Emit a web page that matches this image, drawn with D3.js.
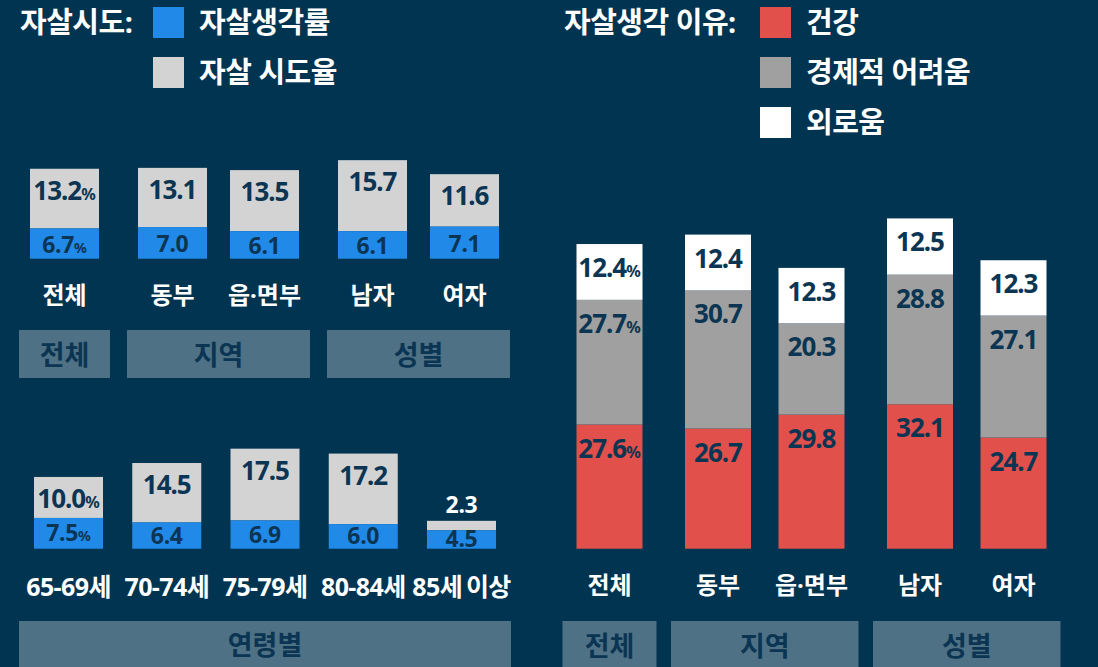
<!DOCTYPE html>
<meta charset="utf-8">
<script src="https://d3js.org/d3.v7.min.js"></script>
<style>
  body { margin: 0; background: #003450; }
  text { font-family: "Noto Sans", "Noto Sans CJK KR", sans-serif; font-weight: 700; }
</style>
<div id="chart"></div>
<script>
  // data
  const regionCats = ["전체", "동부", "읍·면부", "남자", "여자"]
  const regionGroup = [0, 1, 1, 2, 2]
  const groupNames = ["전체", "지역", "성별"]
  const ideation = [6.7, 7.0, 6.1, 6.1, 7.1]      // 자살생각률
  const attempt = [13.2, 13.1, 13.5, 15.7, 11.6]  // 자살 시도율

  const ageCats = ["65-69세", "70-74세", "75-79세", "80-84세", "85세 이상"]
  const ageIdeation = [7.5, 6.4, 6.9, 6.0, 4.5]
  const ageAttempt = [10.0, 14.5, 17.5, 17.2, 2.3]

  const health = [27.6, 26.7, 29.8, 32.1, 24.7]     // 건강
  const economic = [27.7, 30.7, 20.3, 28.8, 27.1]   // 경제적 어려움
  const lonely = [12.4, 12.4, 12.3, 12.5, 12.3]     // 외로움

  const width = 1098, height = 667
  const C = { bg: "#003450", blue: "#218ae9", lgray: "#d3d3d3", red: "#e1504a",
              dgray: "#9fa09f", white: "#ffffff", dark: "#0b3552", box: "#4e7186" }

  const svg = d3.select("#chart").append("svg")
    .attr("width", width).attr("height", height)
  svg.append("rect").attr("width", width).attr("height", height).attr("fill", C.bg)

  // value label, small % on the first bar
  function valueLabel(g, x, y, v, size, color, pct) {
    const t = g.append("text").attr("x", x).attr("y", y)
      .attr("text-anchor", "middle").attr("fill", color)
      .attr("font-size", size).attr("letter-spacing", size > 24 ? -1 : -0.3)
    t.append("tspan").text(v.toFixed(1))
    if (pct) t.append("tspan").attr("font-size", size * 0.62).attr("letter-spacing", 0).text("%")
  }

  function legend(x, title, items) {
    const g = svg.append("g")
    g.append("text").attr("x", title.x).attr("y", 33).attr("fill", "#fff")
      .attr("font-size", 29).attr("letter-spacing", -0.5).text(title.t)
    items.forEach((it, i) => {
      g.append("rect").attr("x", x).attr("y", 7 + i * 50).attr("width", 31).attr("height", 31).attr("fill", it.c)
      g.append("text").attr("x", x + 46).attr("y", 33 + i * 50).attr("fill", "#fff")
        .attr("font-size", 29).attr("letter-spacing", -0.5).text(it.t)
    })
  }
  legend(153, { t: "자살시도:", x: 20 }, [{ c: C.blue, t: "자살생각률" }, { c: C.lgray, t: "자살 시도율" }])
  legend(760, { t: "자살생각 이유:", x: 564 }, [{ c: C.red, t: "건강" }, { c: C.dgray, t: "경제적 어려움" }, { c: C.white, t: "외로움" }])

  function groupBoxes(g, xs, bw, y, h, pad) {
    groupNames.forEach((name, gi) => {
      const idx = regionGroup.map((d, i) => d === gi ? i : -1).filter(i => i >= 0)
      const x0 = xs(idx[0]) - bw / 2 - pad, x1 = xs(idx[idx.length - 1]) + bw / 2 + pad
      g.append("rect").attr("x", x0).attr("y", y).attr("width", x1 - x0).attr("height", h).attr("fill", C.box)
      g.append("text").attr("x", (x0 + x1) / 2).attr("y", y + 35).attr("text-anchor", "middle")
        .attr("fill", C.dark).attr("font-size", 27).text(name)
    })
  }

  // ---- top-left: region / sex
  {
    const g = svg.append("g")
    const bw = 69
    const xi = d3.scaleLinear().domain([0, 4]).range([64.5, 64.5 + 4 * 92])
    const xs = i => xi(i) + regionGroup[i] * 16
    const y = d3.scaleLinear().domain([0, 20]).range([258.7, 258.7 - 20 * 4.52])
    regionCats.forEach((c, i) => {
      const x = xs(i)
      g.append("rect").attr("x", x - bw / 2).attr("y", y(ideation[i] + attempt[i])).attr("width", bw)
        .attr("height", y(ideation[i]) - y(ideation[i] + attempt[i])).attr("fill", C.lgray)
      g.append("rect").attr("x", x - bw / 2).attr("y", y(ideation[i])).attr("width", bw)
        .attr("height", y(0) - y(ideation[i])).attr("fill", C.blue)
      valueLabel(g, x, y(ideation[i] + attempt[i]) + 31, attempt[i], 26, C.dark, i === 0)
      valueLabel(g, x, (y(ideation[i]) + y(0)) / 2 + 9, ideation[i], 23, C.dark, i === 0)
      g.append("text").attr("x", x).attr("y", 304).attr("text-anchor", "middle").attr("fill", "#fff")
        .attr("font-size", 24).text(c)
    })
    groupBoxes(g, xs, bw, 330, 48, 11)
  }

  // ---- bottom-left: age
  {
    const g = svg.append("g")
    const bw = 69
    const x = d3.scalePoint().domain(ageCats).range([68.5, 461.5])
    const y = d3.scaleLinear().domain([0, 20]).range([548.7, 548.7 - 20 * 4.1])
    ageCats.forEach((c, i) => {
      const cx = x(c)
      const top = y(ageIdeation[i] + ageAttempt[i])
      g.append("rect").attr("x", cx - bw / 2).attr("y", top).attr("width", bw)
        .attr("height", y(ageIdeation[i]) - top).attr("fill", C.lgray)
      g.append("rect").attr("x", cx - bw / 2).attr("y", y(ageIdeation[i])).attr("width", bw)
        .attr("height", y(0) - y(ageIdeation[i])).attr("fill", C.blue)
      if (y(ageIdeation[i]) - top > 30) valueLabel(g, cx, top + 31, ageAttempt[i], 26, C.dark, i === 0)
      else valueLabel(g, cx, top - 8, ageAttempt[i], 23, "#fff", false)
      valueLabel(g, cx, (y(ageIdeation[i]) + y(0)) / 2 + 8, ageIdeation[i], 23, C.dark, i === 0)
      g.append("text").attr("x", cx).attr("y", 596).attr("text-anchor", "middle").attr("fill", "#fff")
        .attr("font-size", 25).attr("letter-spacing", -0.6).attr("word-spacing", -2).text(c)
    })
    g.append("rect").attr("x", 19).attr("y", 621).attr("width", 492).attr("height", 50).attr("fill", C.box)
    g.append("text").attr("x", 265).attr("y", 655).attr("text-anchor", "middle")
      .attr("fill", C.dark).attr("font-size", 27).text("연령별")
  }

  // ---- right: reasons
  {
    const g = svg.append("g")
    const bw = 66
    const xi = d3.scaleLinear().domain([0, 4]).range([609.5, 609.5 + 4 * 93.5])
    const xs = i => xi(i) + regionGroup[i] * 15
    const y = d3.scaleLinear().domain([0, 80]).range([548.7, 548.7 - 80 * 4.5])
    regionCats.forEach((c, i) => {
      const x = xs(i)
      const segs = [
        { v: health[i], base: 0, c: C.red },
        { v: economic[i], base: health[i], c: C.dgray },
        { v: lonely[i], base: health[i] + economic[i], c: C.white }
      ]
      segs.forEach(s => {
        g.append("rect").attr("x", x - bw / 2).attr("y", y(s.base + s.v)).attr("width", bw)
          .attr("height", y(s.base) - y(s.base + s.v)).attr("fill", s.c)
        valueLabel(g, x, y(s.base + s.v) + 33, s.v, 26, C.dark, i === 0)
      })
      g.append("text").attr("x", x).attr("y", 594).attr("text-anchor", "middle").attr("fill", "#fff")
        .attr("font-size", 24).text(c)
    })
    groupBoxes(g, xs, bw, 621, 50, 14)
  }
</script>
